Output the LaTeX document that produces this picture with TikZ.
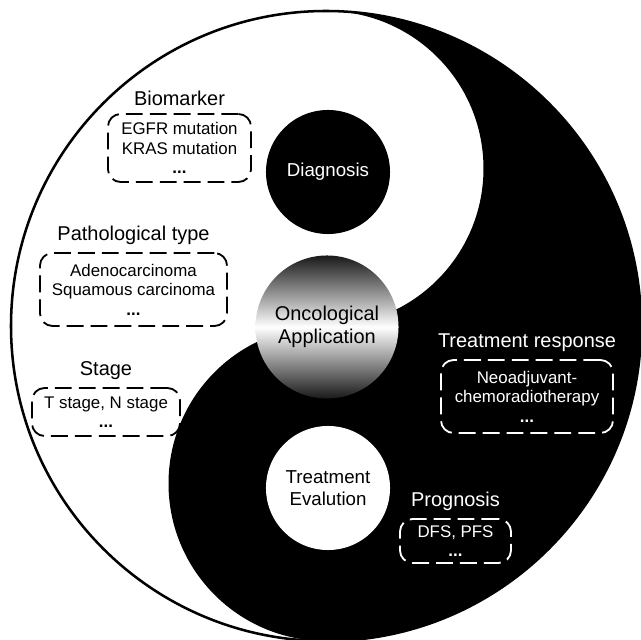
\documentclass[tikz,border=0pt]{standalone}
\usepackage{fontspec}
\setmainfont{Liberation Sans}
\usetikzlibrary{positioning}
\pgfdeclareverticalshading{oncoshade}{100bp}{color(0bp)=(black!90); color(25bp)=(black!90); color(50bp)=(white); color(75bp)=(black!90); color(100bp)=(black!90)}
\tikzset{
	listbox/.style={draw=black, line width=1.3pt, dash pattern=on 12pt off 5pt, rounded corners=9pt, align=center, inner sep=1pt, font=\fontsize{12}{13.8}\selectfont},
	whitebox/.style={listbox, draw=white, text=white},
	boxtitle/.style={inner sep=0pt, font=\fontsize{14.2}{16}\selectfont},
	centretext/.style={circle, align=center, inner sep=0pt, font=\fontsize{13.3}{15.5}\selectfont},
}

\begin{document}
\begin{tikzpicture}[x=0.025cm, y=0.025cm]
		%%%%% START %%%%%
		\useasboundingbox (0, 0) rectangle (641, 640);
		\clip (0, 0) rectangle (641, 640);
		
		% yin-yang
		\fill[white] (0, 0) rectangle (641, 640);
		\fill[black] (326, 629) arc (90:-90:315) arc (270:90:157.5) arc (-90:90:157.5) -- cycle;
		\draw[line width=1.8pt] (326, 314) circle (315);
		
		% circles
		\node[centretext, fill=black, text=white, minimum size=3.1cm] (diag) at (328, 468) {Diagnosis};
		\node[centretext, fill=white, text=black, minimum size=3.1cm] (eval) at (328, 152) {Treatment\\Evalution};
		\node[centretext, shading=oncoshade, minimum size=3.575cm, font=\fontsize{14.2}{16.5}\selectfont] (onco) at (327, 313) {Oncological\\Application};
		
		% white side
		\node[listbox, minimum width=3.575cm, minimum height=1.7cm] (bio) at (179.5, 492) {EGFR mutation\\KRAS mutation\\\textbf{...}};
		\node[boxtitle, above=5pt of bio] (biot) {Biomarker};
		
		\node[listbox, minimum width=4.675cm, minimum height=1.825cm] (patho) at (133.5, 350.5) {Adenocarcinoma\\Squamous carcinoma\\\textbf{...}};
		\node[boxtitle, above=5pt of patho] (pathot) {Pathological type};
		
		\node[listbox, minimum width=3.7cm, minimum height=1.2cm] (stage) at (106, 228) {T stage, N stage\\\textbf{...}};
		\node[boxtitle, above=5pt of stage] (staget) {Stage};
		
		% black side
		\node[whitebox, minimum width=4.3cm, minimum height=1.825cm] (resp) at (527, 243.5) {Neoadjuvant-\\chemoradiotherapy\\\textbf{...}};
		\node[boxtitle, text=white, above=5pt of resp] (respt) {Treatment response};
		
		\node[whitebox, minimum width=2.775cm, minimum height=1.1cm] (prog) at (455.5, 99) {DFS, PFS\\\textbf{...}};
		\node[boxtitle, text=white, above=5pt of prog] (progt) {Prognosis};
		
		%%%%% END %%%%%
\end{tikzpicture}
\end{document}
